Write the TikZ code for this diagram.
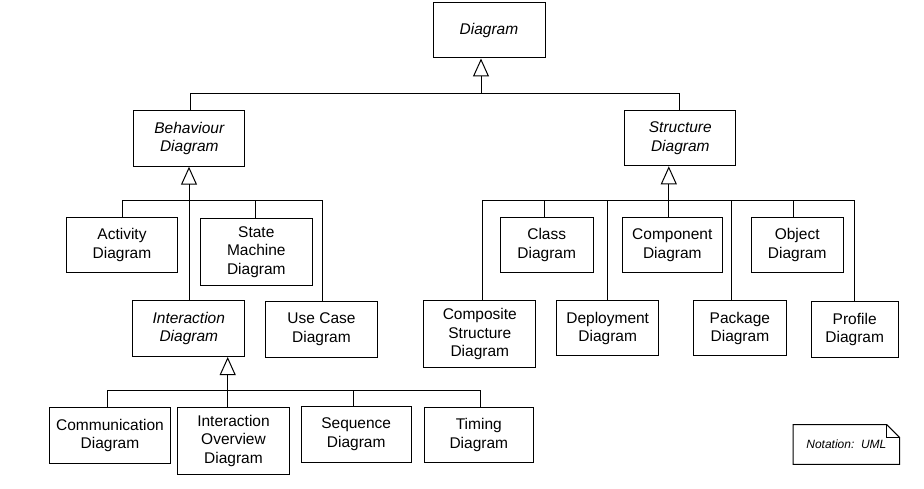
\documentclass[tikz,border=0pt]{standalone}
\usepackage{fontspec}
\setmainfont{Liberation Sans}
\usetikzlibrary{arrows.meta}
\begin{document}
\begin{tikzpicture}[x=1pt,y=-1pt,
  box/.style={draw, line width=1pt, align=center, inner sep=0pt, font=\fontsize{15.5}{18.4}\selectfont},
  abstract/.style={box, font=\fontsize{15.5}{18.4}\selectfont\itshape},
  sz/.style 2 args={minimum width=#1pt, minimum height=#2pt},
  link/.style={draw, line width=1pt},
  gen/.style={link, -{Triangle[open, length=18pt, width=16pt]}},
]
\useasboundingbox (0,0) rectangle (924,489);

% nodes
\node[abstract, sz={112}{55}] (D) at (489,30.5) {Diagram};
\node[abstract, sz={111}{56}] (B) at (189.3,138.2) {Behaviour\\Diagram};
\node[abstract, sz={111}{55}] (S) at (680.3,138.3) {Structure\\Diagram};
\node[box, sz={111}{55}] (act) at (122,245) {Activity\\Diagram};
\node[box, sz={112}{67}] (sm) at (256.3,251.8) {State\\Machine\\Diagram};
\node[abstract, sz={112}{56}] (I) at (188.8,328.5) {Interaction\\Diagram};
\node[box, sz={112}{56}] (uc) at (321.5,329.2) {Use Case\\Diagram};
\node[box, sz={93}{55}] (cls) at (546.7,245) {Class\\Diagram};
\node[box, sz={100}{55}] (cmp) at (672.3,245) {Component\\Diagram};
\node[box, sz={92}{55}] (obj) at (797.2,245) {Object\\Diagram};
\node[box, sz={112}{67}] (cs) at (479.8,334) {Composite\\Structure\\Diagram};
\node[box, sz={102}{55}] (dep) at (607.7,328.3) {Deployment\\Diagram};
\node[box, sz={93}{55}] (pkg) at (739.9,328.3) {Package\\Diagram};
\node[box, sz={87}{56}] (prf) at (854.7,329.2) {Profile\\Diagram};
\node[box, sz={121}{56}] (com) at (110,435.3) {Communication\\Diagram};
\node[box, sz={112}{67}] (io) at (233.5,440.8) {Interaction\\Overview\\Diagram};
\node[box, sz={110}{56}] (seq) at (356.2,434) {Sequence\\Diagram};
\node[box, sz={109}{55}] (tim) at (478.8,435) {Timing\\Diagram};

% bus 1
\coordinate (t1) at (481,93.7);
\coordinate (t1l) at (190,93.7);
\coordinate (t1r) at (679.3,93.7);
\draw[link] (t1l |- B.north) -- (t1l) -- (t1r) -- (t1r |- S.north);
\draw[gen] (t1) -- (t1 |- D.south);

% bus 2 (behaviour)
\coordinate (b2a) at (122,200.7);
\coordinate (b2b) at (189,200.7);
\coordinate (b2c) at (255.7,200.7);
\coordinate (b2d) at (322.3,200.7);
\draw[link] (b2a |- act.north) -- (b2a) -- (b2d) -- (b2d |- uc.north);
\draw[link] (b2c) -- (b2c |- sm.north);
\draw[gen] (b2b |- I.north) -- (b2b |- B.south);

% bus 3 (structure)
\coordinate (s1) at (482.8,200.7);
\coordinate (s2) at (544.9,200.7);
\coordinate (s3) at (607,200.7);
\coordinate (s4) at (668.8,200.7);
\coordinate (s5) at (731,200.7);
\coordinate (s6) at (793,200.7);
\coordinate (s7) at (854.8,200.7);
\draw[link] (s1 |- cs.north) -- (s1) -- (s7) -- (s7 |- prf.north);
\draw[link] (s2) -- (s2 |- cls.north);
\draw[link] (s3) -- (s3 |- dep.north);
\draw[link] (s5) -- (s5 |- pkg.north);
\draw[link] (s6) -- (s6 |- obj.north);
\draw[gen] (s4 |- cmp.north) -- (s4 |- S.south);

% bus 4 (interaction)
\coordinate (i1) at (107.7,390.7);
\coordinate (i2) at (227.7,390.7);
\coordinate (i3) at (353.7,390.7);
\coordinate (i4) at (480.7,390.7);
\draw[link] (i1 |- com.north) -- (i1) -- (i4) -- (i4 |- tim.north);
\draw[link] (i3) -- (i3 |- seq.north);
\draw[gen] (i2 |- io.north) -- (i2 |- I.south);

% note
\node[inner sep=0pt, sz={106}{39.5}, font=\fontsize{12}{14}\selectfont\itshape] (note) at (846.4,444.5) {Notation:\ \ UML};
\draw[line width=1pt] (note.north west) -- ([xshift=-13pt]note.north east) -- ([yshift=-13pt]note.north east) -- (note.south east) -- (note.south west) -- cycle;
\draw[line width=1pt] ([xshift=-13pt]note.north east) |- ([yshift=-13pt]note.north east);
\end{tikzpicture}
\end{document}
